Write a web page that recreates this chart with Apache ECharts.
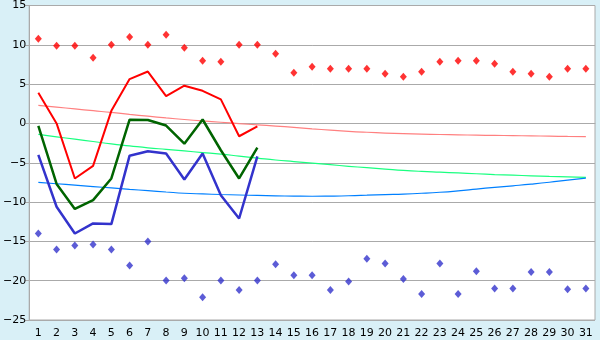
<!DOCTYPE html>
<html>
<head>
<meta charset="utf-8">
<script src="https://cdn.jsdelivr.net/npm/echarts@6/dist/echarts.min.js"></script>
<style>
html,body{margin:0;padding:0;background:#d9f0f7;}
#c{width:600px;height:340px;}
</style>
</head>
<body>
<div id="c"></div>
<script>
var days = ['1','2','3','4','5','6','7','8','9','10','11','12','13','14','15','16','17','18','19','20','21','22','23','24','25','26','27','28','29','30','31'];

var recordMax = [10.77,9.88,9.88,8.35,10.0,11.0,10.0,11.27,9.63,7.97,7.84,10.0,10.0,8.86,6.45,7.21,6.96,6.96,6.96,6.33,5.94,6.58,7.84,7.97,7.97,7.6,6.58,6.33,5.94,6.96,6.96];
var recordMin = [-14.0,-16.03,-15.52,-15.39,-16.03,-18.06,-15.0,-19.97,-19.7,-22.1,-19.97,-21.2,-19.97,-17.9,-19.3,-19.3,-21.2,-20.1,-17.2,-17.8,-19.8,-21.7,-17.8,-21.7,-18.8,-21.0,-21.0,-18.9,-18.9,-21.1,-21.0];

var maxTemp = [3.9,0.0,-7.0,-5.4,1.6,5.64,6.6,3.48,4.8,4.15,3.06,-1.63,-0.37];
var meanTemp = [-0.3,-7.7,-10.87,-9.76,-7.0,0.48,0.44,-0.27,-2.57,0.5,-3.41,-7.0,-3.07];
var minTemp = [-4.0,-10.6,-14.0,-12.72,-12.8,-4.1,-3.54,-3.83,-7.13,-3.83,-9.13,-12.09,-4.2];

var normalMax = [2.3,2.08,1.85,1.62,1.4,1.15,0.92,0.7,0.5,0.32,0.15,-0.02,-0.18,-0.33,-0.5,-0.68,-0.85,-1.0,-1.12,-1.22,-1.3,-1.36,-1.41,-1.45,-1.49,-1.52,-1.55,-1.58,-1.62,-1.65,-1.67];
var normalMean = [-1.4,-1.7,-2.0,-2.3,-2.6,-2.85,-3.1,-3.3,-3.5,-3.7,-3.9,-4.15,-4.4,-4.65,-4.85,-5.05,-5.25,-5.45,-5.63,-5.8,-5.97,-6.1,-6.2,-6.3,-6.4,-6.5,-6.58,-6.66,-6.74,-6.8,-6.86];
var normalMin = [-7.49,-7.67,-7.85,-8.03,-8.2,-8.38,-8.55,-8.72,-8.88,-8.97,-9.04,-9.1,-9.16,-9.21,-9.24,-9.26,-9.24,-9.2,-9.13,-9.05,-8.98,-8.88,-8.75,-8.57,-8.35,-8.13,-7.93,-7.72,-7.48,-7.2,-6.95];

var yMin = -25, yMax = 15, yStep = 5;

var chart = echarts.init(document.getElementById('c'), null, {renderer:'canvas'});
function trend(data, color){
  return {type:'line', data:data, symbol:'none', smooth:true, silent:true,
    lineStyle:{color:color, width:1.2}, z:2};
}
function main(data, color, w){
  return {type:'line', data:data, symbol:'none', silent:true,
    lineStyle:{color:color, width:w}, z:3};
}
function dots(data, color){
  return {type:'scatter', data:data, symbol:'diamond', symbolSize:[7,8], silent:true,
    itemStyle:{color:color}, z:4};
}
chart.setOption({
  animation:false,
  backgroundColor:'#d9f0f7',
  grid:{left:26, right:5, top:5, bottom:20, show:true, backgroundColor:'#ffffff', borderColor:'#aaaaaa', borderWidth:1},
  xAxis:{type:'category', data:days, boundaryGap:true,
    axisLine:{lineStyle:{color:'#aaaaaa'}},
    axisTick:{alignWithLabel:true, length:6, lineStyle:{color:'#888888'}},
    axisLabel:{color:'#000', fontFamily:'DejaVu Sans', fontSize:11, margin:8, interval:0},
    splitLine:{show:false}},
  yAxis:{type:'value', min:yMin, max:yMax, interval:yStep,
    axisLine:{show:true, lineStyle:{color:'#aaaaaa'}},
    axisTick:{show:true, length:4, lineStyle:{color:'#aaaaaa'}},
    axisLabel:{color:'#000', fontFamily:'DejaVu Sans', fontSize:11, margin:3,
      formatter:function(v){return String(v).replace('-', '\u2212');}},
    splitLine:{lineStyle:{color:'#aaaaaa'}}},
  series:[
    trend(normalMax,'#ff8080'),
    trend(normalMean,'#1aff80'),
    trend(normalMin,'#0080ff'),
    main(maxTemp,'#ff0000',2),
    main(meanTemp,'#006400',2.5),
    main(minTemp,'#3333cc',2.5),
    dots(recordMax,'#ff0000'),
    dots(recordMin,'#3333cc')
  ]
});
</script>
</body>
</html>
